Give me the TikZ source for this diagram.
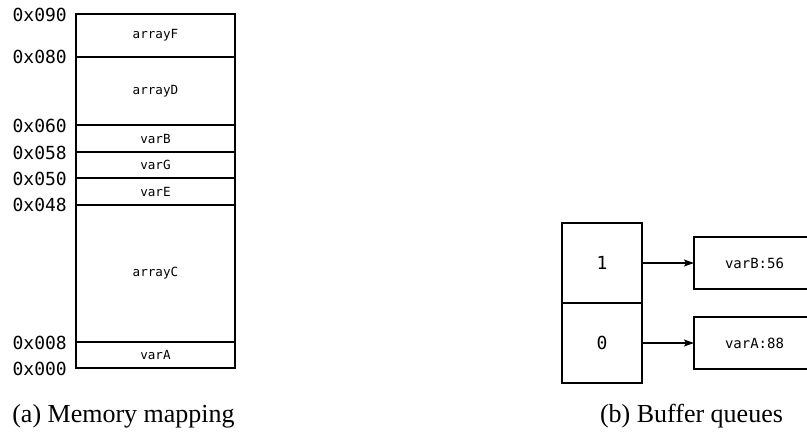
\documentclass[tikz,border=0pt]{standalone}
\usepackage{fontspec}
\setmainfont{Liberation Serif}
\newfontfamily\monofnt{DejaVu Sans Mono}
\usetikzlibrary{arrows.meta}
\tikzset{
  cell/.style={draw, line width=1.3pt, inner sep=0pt, outer sep=0pt, minimum width=159pt,
    font=\monofnt\fontsize{12.6}{14}\selectfont},
  addr/.style={anchor=east, inner sep=0pt, font=\monofnt\fontsize{18}{20}\selectfont},
  bufcell/.style={draw, line width=1.3pt, inner sep=0pt, outer sep=0pt, minimum width=80pt, minimum height=80pt,
    font=\monofnt\fontsize{18}{20}\selectfont},
  entry/.style={draw, line width=1.3pt, inner sep=0pt, outer sep=0pt, minimum width=121pt, minimum height=52pt,
    font=\monofnt\fontsize{14}{16}\selectfont},
  ptr/.style={line width=1.3pt, -{Stealth[length=10pt,width=7pt,inset=2pt]}},
  capt/.style={anchor=base, inner sep=0pt, font=\fontsize{26}{30}\selectfont}
}
\begin{document}
\begin{tikzpicture}[x=1pt,y=-1pt]
\clip (0,0) rectangle (807,432);
% memory cells
\node[cell, minimum height=43pt] (F) at (155.5,35.5) {arrayF};
\node[cell, minimum height=68pt] (D) at (155.5,91) {arrayD};
\node[cell, minimum height=27pt] (B) at (155.5,138.5) {varB};
\node[cell, minimum height=26pt] (G) at (155.5,165) {varG};
\node[cell, minimum height=27pt] (E) at (155.5,191.5) {varE};
\node[cell, minimum height=137pt] (C) at (155.5,273.5) {arrayC};
\node[cell, minimum height=26pt] (A) at (155.5,355) {varA};
% address labels
\node[addr] (a90) at (67,15) {0x090};
\node[addr] (a80) at (67,57) {0x080};
\node[addr] (a60) at (67,125.5) {0x060};
\node[addr] (a58) at (67,152.5) {0x058};
\node[addr] (a50) at (67,178.5) {0x050};
\node[addr] (a48) at (67,205) {0x048};
\node[addr] (a08) at (67,342.5) {0x008};
\node[addr] (a00) at (67,369) {0x000};
% buffer queues
\node[bufcell] (b1) at (602,263) {1};
\node[bufcell] (b0) at (602,343) {0};
\node[entry] (e1) at (754.5,263) {varB:56};
\node[entry] (e0) at (754.5,343) {varA:88};
\draw[ptr] (b1) -- (e1);
\draw[ptr] (b0) -- (e0);
% captions
\node[capt] (ca) at (123.5,422) {(a) Memory mapping};
\node[capt] (cb) at (691.5,422) {(b) Buffer queues};
\end{tikzpicture}
\end{document}
